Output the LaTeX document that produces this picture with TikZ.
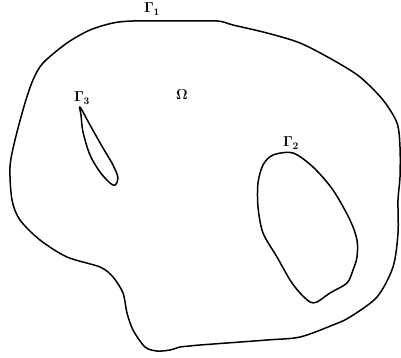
\documentclass[tikz,border=0pt]{standalone}
\usepackage{amsmath}
\usepackage{amssymb}
\usepackage{bm}
\usepackage{tikz}
\usepackage{xcolor}
\usetikzlibrary{positioning, calc}

\begin{document}
\begin{tikzpicture}[
    x=1pt, y=-1pt,
    bnd/.style={draw=black, line width=1.5pt, line join=round},
    lbl/.style={font=\Large, inner sep=1pt, text=black}
]
\useasboundingbox (0,0) rectangle (401,358);

% outer boundary
\draw[bnd] plot[smooth cycle, tension=0.5] coordinates {
    (113,23) (133,21) (175,21) (217,21) (233,25) (267,33) (300,43) (333,60)
    (360,77) (383,100) (397,123) (400,147) (400,177) (398,200) (398,233)
    (393,267) (377,297) (350,317) (333,325) (300,337) (267,340) (200,345)
    (190,346) (180,347) (170,350) (157,351) (145,347) (133,330) (127,313)
    (123,293) (113,277) (100,267) (67,257) (40,240) (20,220) (12,200) (10,167)
    (15,140) (25,103) (33,80) (43,63) (67,43) (90,30)};

% inner holes
\draw[bnd] plot[smooth cycle, tension=0.55] coordinates {
    (80,107) (90,125) (103,148) (113,165) (118,178) (115,185)
    (110,183) (100,172) (90,155) (83,132) (81,115)};
\draw[bnd] plot[smooth cycle, tension=0.5] coordinates {
    (273,155) (293,153) (313,167) (333,190) (350,220) (357,240) (357,257)
    (353,270) (347,283) (330,293) (317,302) (310,302) (300,293) (290,280)
    (277,257) (263,233) (258,207) (258,183) (263,165)};

% labels
\node[lbl] (G1) at (152,9) {$\bm{\Gamma}_{\bm 1}$};
\node[lbl] (Om) at (182,95) {$\bm{\Omega}$};
\node[lbl] (G3) at (82,98) {$\bm{\Gamma}_{\bm 3}$};
\node[lbl] (G2) at (291,143) {$\bm{\Gamma}_{\bm 2}$};

\end{tikzpicture}
\end{document}
